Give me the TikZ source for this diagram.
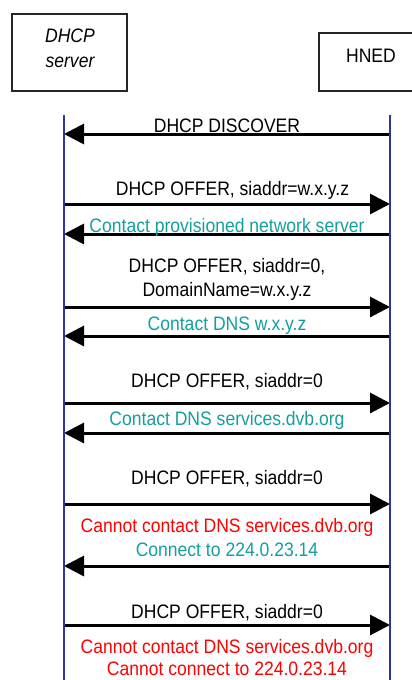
\documentclass[tikz,border=0pt]{standalone}
\usepackage{fontspec}
\setmainfont[FakeStretch=0.9]{Liberation Sans}
\usetikzlibrary{arrows.meta}
\definecolor{lifeblue}{RGB}{51,51,153}
\definecolor{tealtxt}{RGB}{20,158,158}
\definecolor{redtxt}{RGB}{255,0,0}
\tikzset{
  entity/.style={draw=black!85, line width=1.3pt},
  lifeline/.style={draw=lifeblue, line width=2.6pt},
  msg/.style={line width=3pt, -{Triangle[length=20pt,width=20pt]}},
  lbl/.style={anchor=base, inner sep=0pt, font=\fontsize{19.5}{23}\selectfont},
  req/.style={lbl, text=black},
  ok/.style={lbl, text=tealtxt},
  bad/.style={lbl, text=redtxt},
}
\begin{document}
\begin{tikzpicture}[x=1pt,y=-1pt]
\useasboundingbox (0,0) rectangle (412,680);
% entities
\draw[entity] (12,14) rectangle (127,91);
\node[lbl, font=\fontsize{19.5}{23}\selectfont\itshape] (srv1) at (70,42) {DHCP};
\node[lbl, font=\fontsize{19.5}{23}\selectfont\itshape] (srv2) at (70,67) {server};
\draw[entity] (319,33) rectangle (416,91);
\node[lbl] (hned) at (371,62) {HNED};
% lifelines
\coordinate (stop) at (64,115);
\coordinate (sbot) at (64,682);
\coordinate (htop) at (390,115);
\coordinate (hbot) at (390,682);
% message endpoints
\foreach \n/\y in {1/134,2/204,3/234,4/307,5/336,6/403,7/433,8/504,9/566,10/625}{
  \coordinate (s\n) at (64,\y);
  \coordinate (h\n) at (390,\y);
}
\draw[msg] (h1) -- (s1);
\draw[msg] (s2) -- (h2);
\draw[msg] (h3) -- (s3);
\draw[msg] (s4) -- (h4);
\draw[msg] (h5) -- (s5);
\draw[msg] (s6) -- (h6);
\draw[msg] (h7) -- (s7);
\draw[msg] (s8) -- (h8);
\draw[msg] (h9) -- (s9);
\draw[msg] (s10) -- (h10);
\draw[lifeline] (stop) -- (sbot);
\draw[lifeline] (htop) -- (hbot);
% labels
\node[req] (l1) at (227,132) {DHCP DISCOVER};
\node[req] (l2) at (232.5,195) {DHCP OFFER, siaddr=w.x.y.z};
\node[ok]  (l3) at (227,232) {Contact provisioned network server};
\node[req] (l4a) at (227,272) {DHCP OFFER, siaddr=0,};
\node[req] (l4b) at (227,296) {DomainName=w.x.y.z};
\node[ok]  (l5) at (227,330) {Contact DNS w.x.y.z};
\node[req] (l6) at (227,387) {DHCP OFFER, siaddr=0};
\node[ok]  (l7) at (227,425) {Contact DNS services.dvb.org};
\node[req] (l8) at (227,484) {DHCP OFFER, siaddr=0};
\node[bad] (l9a) at (227,532) {Cannot contact DNS services.dvb.org};
\node[ok]  (l9b) at (227,556) {Connect to 224.0.23.14};
\node[req] (l10) at (227,618) {DHCP OFFER, siaddr=0};
\node[bad] (l11a) at (227,653) {Cannot contact DNS services.dvb.org};
\node[bad] (l11b) at (227,675) {Cannot connect to 224.0.23.14};
\end{tikzpicture}
\end{document}
